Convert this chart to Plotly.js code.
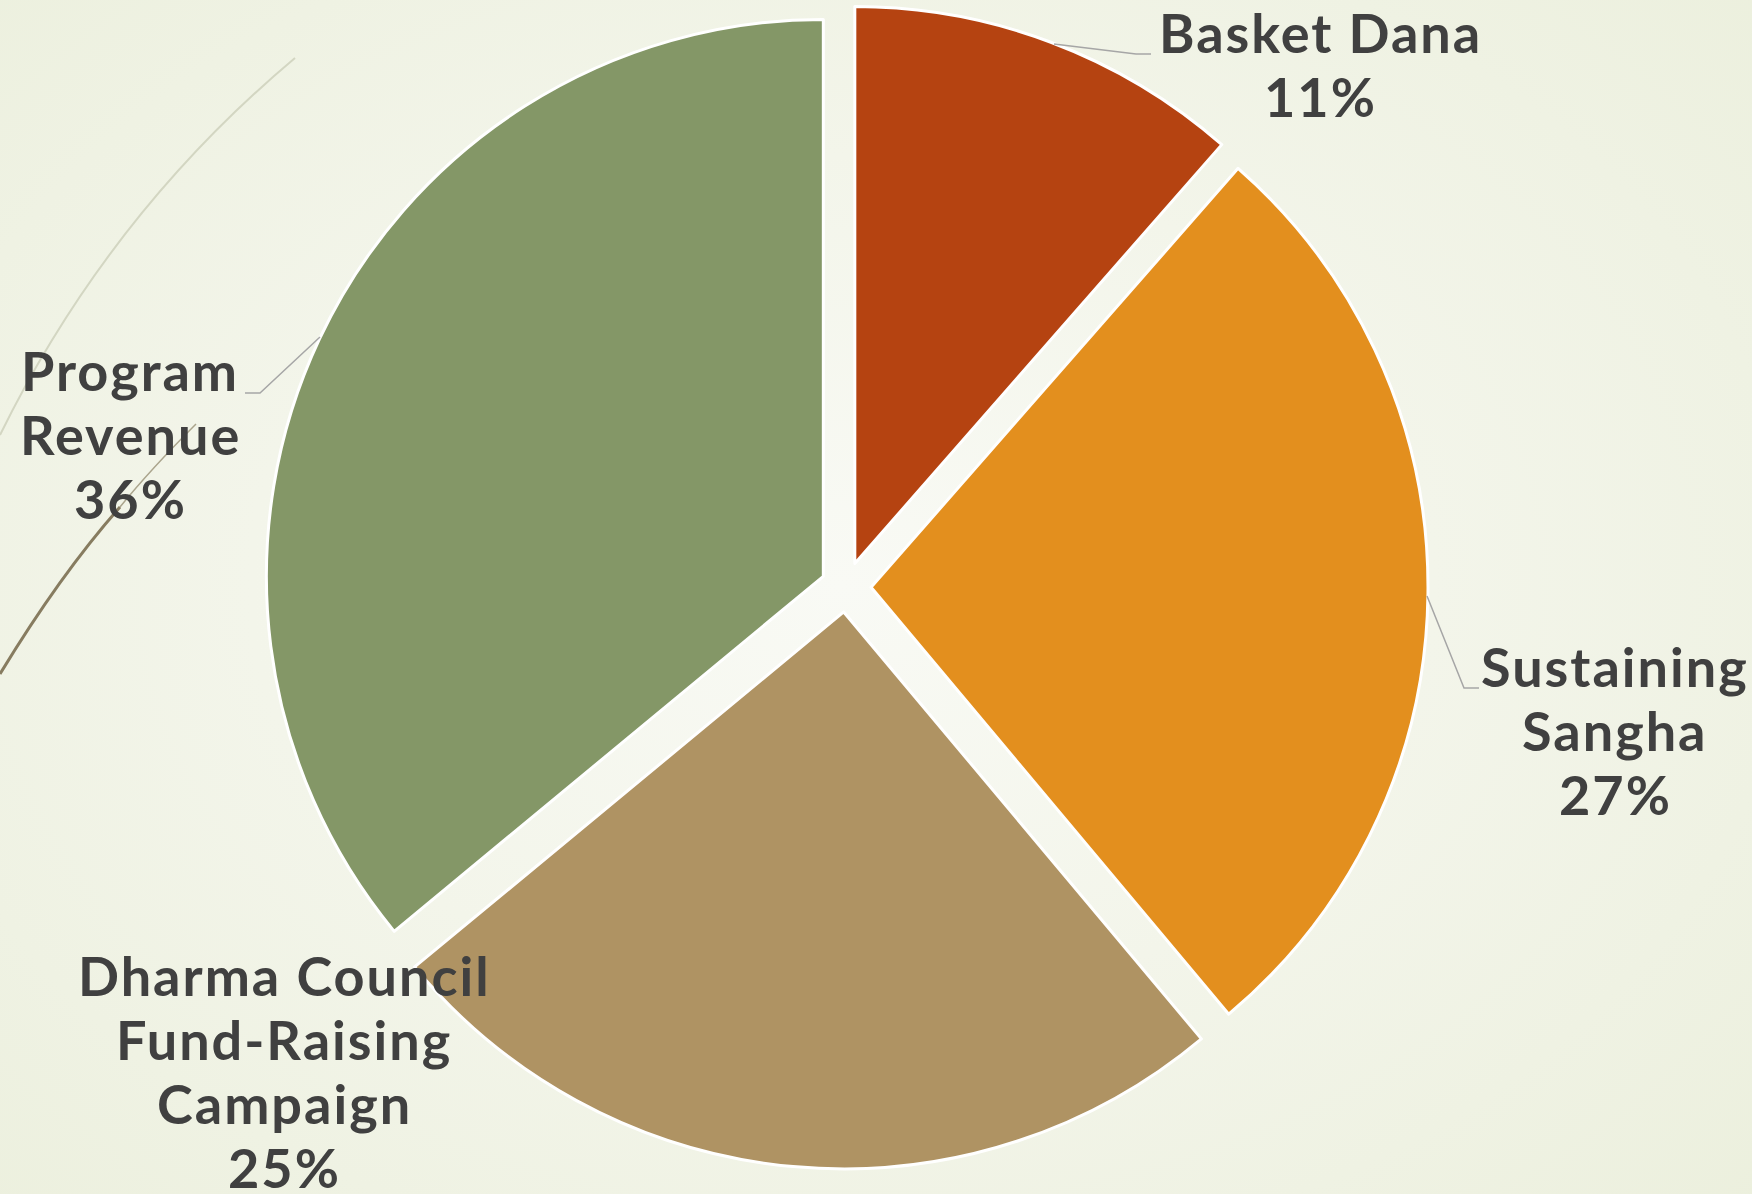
<!DOCTYPE html>
<html>
<head>
<meta charset="utf-8">
<script src="https://cdn.plot.ly/plotly-3.0.1.min.js"></script>
<style>
  html, body { margin: 0; padding: 0; width: 1752px; height: 1194px; overflow: hidden;
    background: radial-gradient(ellipse 75% 80% at 48% 49%, #F9FAF5 0%, #F3F5EA 45%, #EBEFDC 100%); }
  #chart { width: 1752px; height: 1194px; }
  #chart .annotation-text { letter-spacing: 2px; }
</style>
</head>
<body>
<div id="chart"></div>
<script>
// ---- data ----
var categories = ['Basket Dana', 'Sustaining Sangha', 'Dharma Council Fund-Raising Campaign', 'Program Revenue'];
var labelLines = [
  ['Basket Dana'],
  ['Sustaining', 'Sangha'],
  ['Dharma Council', 'Fund-Raising', 'Campaign'],
  ['Program', 'Revenue']
];
var values = [11.45, 27.45, 25.1, 36.0];
var sliceColors = ['#B54311', '#E38F1E', '#AF9363', '#849767'];

// ---- layout helpers (pixel -> paper) ----
var W = 1752, H = 1194;
function px(x) { return x / W; }
function py(y) { return 1 - y / H; }

var total = values.reduce(function (a, b) { return a + b; }, 0);
var pctText = values.map(function (v) { return Math.round(v / total * 100) + '%'; });

// label placement: centre x and first baseline y (pixels), line pitch
var labelPos = [[1320, 54], [1615, 688], [284, 997], [130, 392]];
var linePitch = 64;
var fontSize = 54;

var labelFont = { family: 'Lato, "Open Sans", sans-serif', size: fontSize, color: '#404040', weight: 700 };

var annotations = [];
labelLines.forEach(function (lines, i) {
  var all = lines.concat([pctText[i]]);
  all.forEach(function (t, j) {
    var baseline = labelPos[i][1] + j * linePitch;
    annotations.push({
      xref: 'paper', yref: 'paper',
      x: px(labelPos[i][0]), y: py(baseline + 0.213 * fontSize + 1),
      xanchor: 'center', yanchor: 'bottom',
      text: t, showarrow: false, align: 'center',
      font: labelFont
    });
  });
});

function path(points) {
  return points.map(function (p, i) {
    return (i === 0 ? 'M ' : 'L ') + px(p[0]) + ',' + py(p[1]);
  }).join(' ');
}
var leaderStyle = { color: '#A6A6A6', width: 1.5 };
var shapes = [
  // decorative background curves
  { type: 'path', xref: 'paper', yref: 'paper', layer: 'below',
    path: 'M ' + px(295) + ',' + py(58) + ' Q ' + px(108) + ',' + py(215) + ' ' + px(0) + ',' + py(435),
    line: { color: '#D3D6C2', width: 2 } },
  { type: 'path', xref: 'paper', yref: 'paper', layer: 'below',
    path: 'M ' + px(196) + ',' + py(424) + ' Q ' + px(150) + ',' + py(470) + ' ' + px(120) + ',' + py(507),
    line: { color: '#ABA58D', width: 1.5 } },
  { type: 'path', xref: 'paper', yref: 'paper', layer: 'below',
    path: 'M ' + px(120) + ',' + py(507) + ' Q ' + px(60) + ',' + py(575) + ' ' + px(0) + ',' + py(674),
    line: { color: '#877C60', width: 3 } },
  // leader lines
  { type: 'path', xref: 'paper', yref: 'paper', path: path([[1054, 44], [1136, 54], [1151, 54]]), line: leaderStyle },
  { type: 'path', xref: 'paper', yref: 'paper', path: path([[1427, 596], [1464, 688], [1479, 688]]), line: leaderStyle },
  { type: 'path', xref: 'paper', yref: 'paper', path: path([[320, 337], [260, 393], [245, 393]]), line: leaderStyle }
];

var trace = {
  type: 'pie',
  labels: categories,
  values: values,
  sort: false,
  direction: 'clockwise',
  rotation: 0,
  pull: [0.045, 0.045, 0.045, 0.045],
  marker: { colors: sliceColors, line: { color: '#FFFFFF', width: 3 } },
  textinfo: 'none',
  hoverinfo: 'none',
  domain: { x: [0.15068, 0.81507], y: [0.02094, 0.99581] }
};

var layout = {
  width: W, height: H,
  margin: { l: 0, r: 0, t: 0, b: 0 },
  paper_bgcolor: 'rgba(0,0,0,0)',
  plot_bgcolor: 'rgba(0,0,0,0)',
  showlegend: false,
  annotations: annotations,
  shapes: shapes
};

Plotly.newPlot('chart', [trace], layout, { staticPlot: true, displayModeBar: false });
</script>
</body>
</html>
